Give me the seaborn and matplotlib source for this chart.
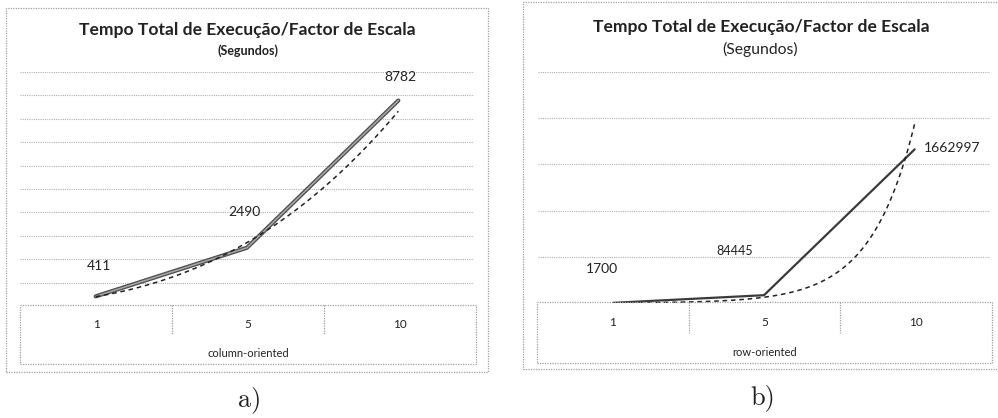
import numpy as np
import pandas as pd
import matplotlib
matplotlib.use("Agg")
import matplotlib.pyplot as plt
from matplotlib.patches import Rectangle
import seaborn as sns

# data
scale_factor = ["1", "5", "10"]
col_times = [411, 2490, 8782]          # column-oriented (seconds)
row_times = [1700, 84445, 1662997]     # row-oriented (seconds)

title = "Tempo Total de Execução/Factor de Escala"
subtitle = "(Segundos)"

sns.set_style("white")
plt.rcParams['font.family'] = ['Lato', 'DejaVu Sans']

W, H = 998, 418
fig = plt.figure(figsize=(W / 100, H / 100), dpi=100)


def box(x0, y0, x1, y1):
    # pixel box -> figure fraction rect
    return [x0 / W, 1 - y1 / H, (x1 - x0) / W, (y1 - y0) / H]


def frame(x0, y0, x1, y1):
    r = Rectangle((x0 / W, 1 - y1 / H), (x1 - x0) / W, (y1 - y0) / H,
                  transform=fig.transFigure, fill=False, ec='#a0a0a0',
                  lw=0.9, ls=(0, (1, 1)))
    fig.add_artist(r)


def make_panel(plot_box, table_box, values, ymax, ystep, fit, group, labels_off,
               double_line):
    ax = fig.add_axes(box(*plot_box))
    df = pd.DataFrame({"pos": np.arange(1, len(values) + 1), "t": values})

    # excel-like trendline computed from the points
    xs = np.linspace(1, len(values), 200)
    if fit == "power":
        b, a = np.polyfit(np.log(df["pos"]), np.log(df["t"]), 1)
        ys = np.exp(a) * xs ** b
    else:
        b, a = np.polyfit(df["pos"], np.log(df["t"]), 1)
        ys = np.exp(a + b * xs)
    trend = pd.DataFrame({"pos": xs, "t": ys})

    for g in np.arange(ystep, ymax + 1, ystep):
        ax.axhline(g, color='#b0b0b0', lw=0.8, ls=(0, (1, 1)), zorder=0)

    if double_line:
        sns.lineplot(data=df, x="pos", y="t", ax=ax, color='#505050', lw=3.0)
        sns.lineplot(data=df, x="pos", y="t", ax=ax, color='#a8a8a8', lw=1.1)
    else:
        sns.lineplot(data=df, x="pos", y="t", ax=ax, color='#3a3a3a', lw=1.6)
    sns.lineplot(data=trend, x="pos", y="t", ax=ax, color='#222222', lw=1.1,
                 ls=(0, (3, 2.5)))

    for x, v, off in zip(df["pos"], df["t"], labels_off):
        ax.annotate(str(v), (x, v), xytext=(off[0], off[1]),
                    textcoords='offset pixels', ha='center', va='center',
                    fontsize=off[2] if len(off) > 2 else 10, color='#222222')

    ax.set_xlim(0.5, len(values) + 0.5)
    ax.set_ylim(0, ymax)
    ax.set_xlabel("")
    ax.set_ylabel("")
    ax.set_xticks([])
    ax.set_yticks([])
    sns.despine(ax=ax, left=True, bottom=True)
    ax.patch.set_alpha(0)

    # category table under the plot
    tb = fig.add_axes(box(*table_box))
    tb.set_xlim(0.5, len(values) + 0.5)
    tb.set_ylim(0, 1)
    tb.axis("off")
    tb.add_patch(Rectangle((0.5, 0), len(values), 1, fill=False, ec='#a0a0a0',
                           lw=0.9, ls=(0, (1, 1)), clip_on=False))
    for d in np.arange(1.5, len(values), 1):
        tb.plot([d, d], [1, 0.5], color='#a0a0a0', lw=0.9, ls=(0, (1, 1)))
    for i, lab in enumerate(scale_factor):
        tb.text(i + 1, 0.67, lab, ha='center', va='center', fontsize=8.5,
                color='#222222')
    tb.text((len(values) + 1) / 2, 0.17, group, ha='center', va='center',
            fontsize=8, color='#222222')
    return ax


# left panel (column-oriented)
frame(6, 8, 488, 372)
make_panel((20, 72, 474, 306), (20, 305, 476, 364), col_times, 10000, 1000,
           "power", "column-oriented",
           [(3, 30), (-3, 36), (2, 24)], True)
fig.text(247 / W, 1 - 30 / H, title, ha='center', va='center', fontsize=12.6,
         fontweight='bold', color='#222222')
fig.text(248 / W, 1 - 51 / H, subtitle, ha='center', va='center', fontsize=9,
         fontweight='bold', color='#222222')
fig.text(250 / W, 1 - 400 / H, "a)", ha='center', va='center', fontsize=19,
         family='cmr10', color='#222222')

# right panel (row-oriented)
frame(523, 2, 1000, 369)
make_panel((538, 72, 990, 303), (537, 302, 992, 363), row_times, 2500000, 500000,
           "exp", "row-oriented",
           [(-11, 34), (-29, 44, 9), (37, 1)], False)
fig.text(761 / W, 1 - 27 / H, title, ha='center', va='center', fontsize=12.6,
         fontweight='bold', color='#222222')
fig.text(760 / W, 1 - 49 / H, subtitle, ha='center', va='center', fontsize=11.3,
         color='#222222')
fig.text(763 / W, 1 - 398 / H, "b)", ha='center', va='center', fontsize=19,
         family='cmr10', color='#222222')

fig.savefig("out.png", dpi=100, facecolor='white')
